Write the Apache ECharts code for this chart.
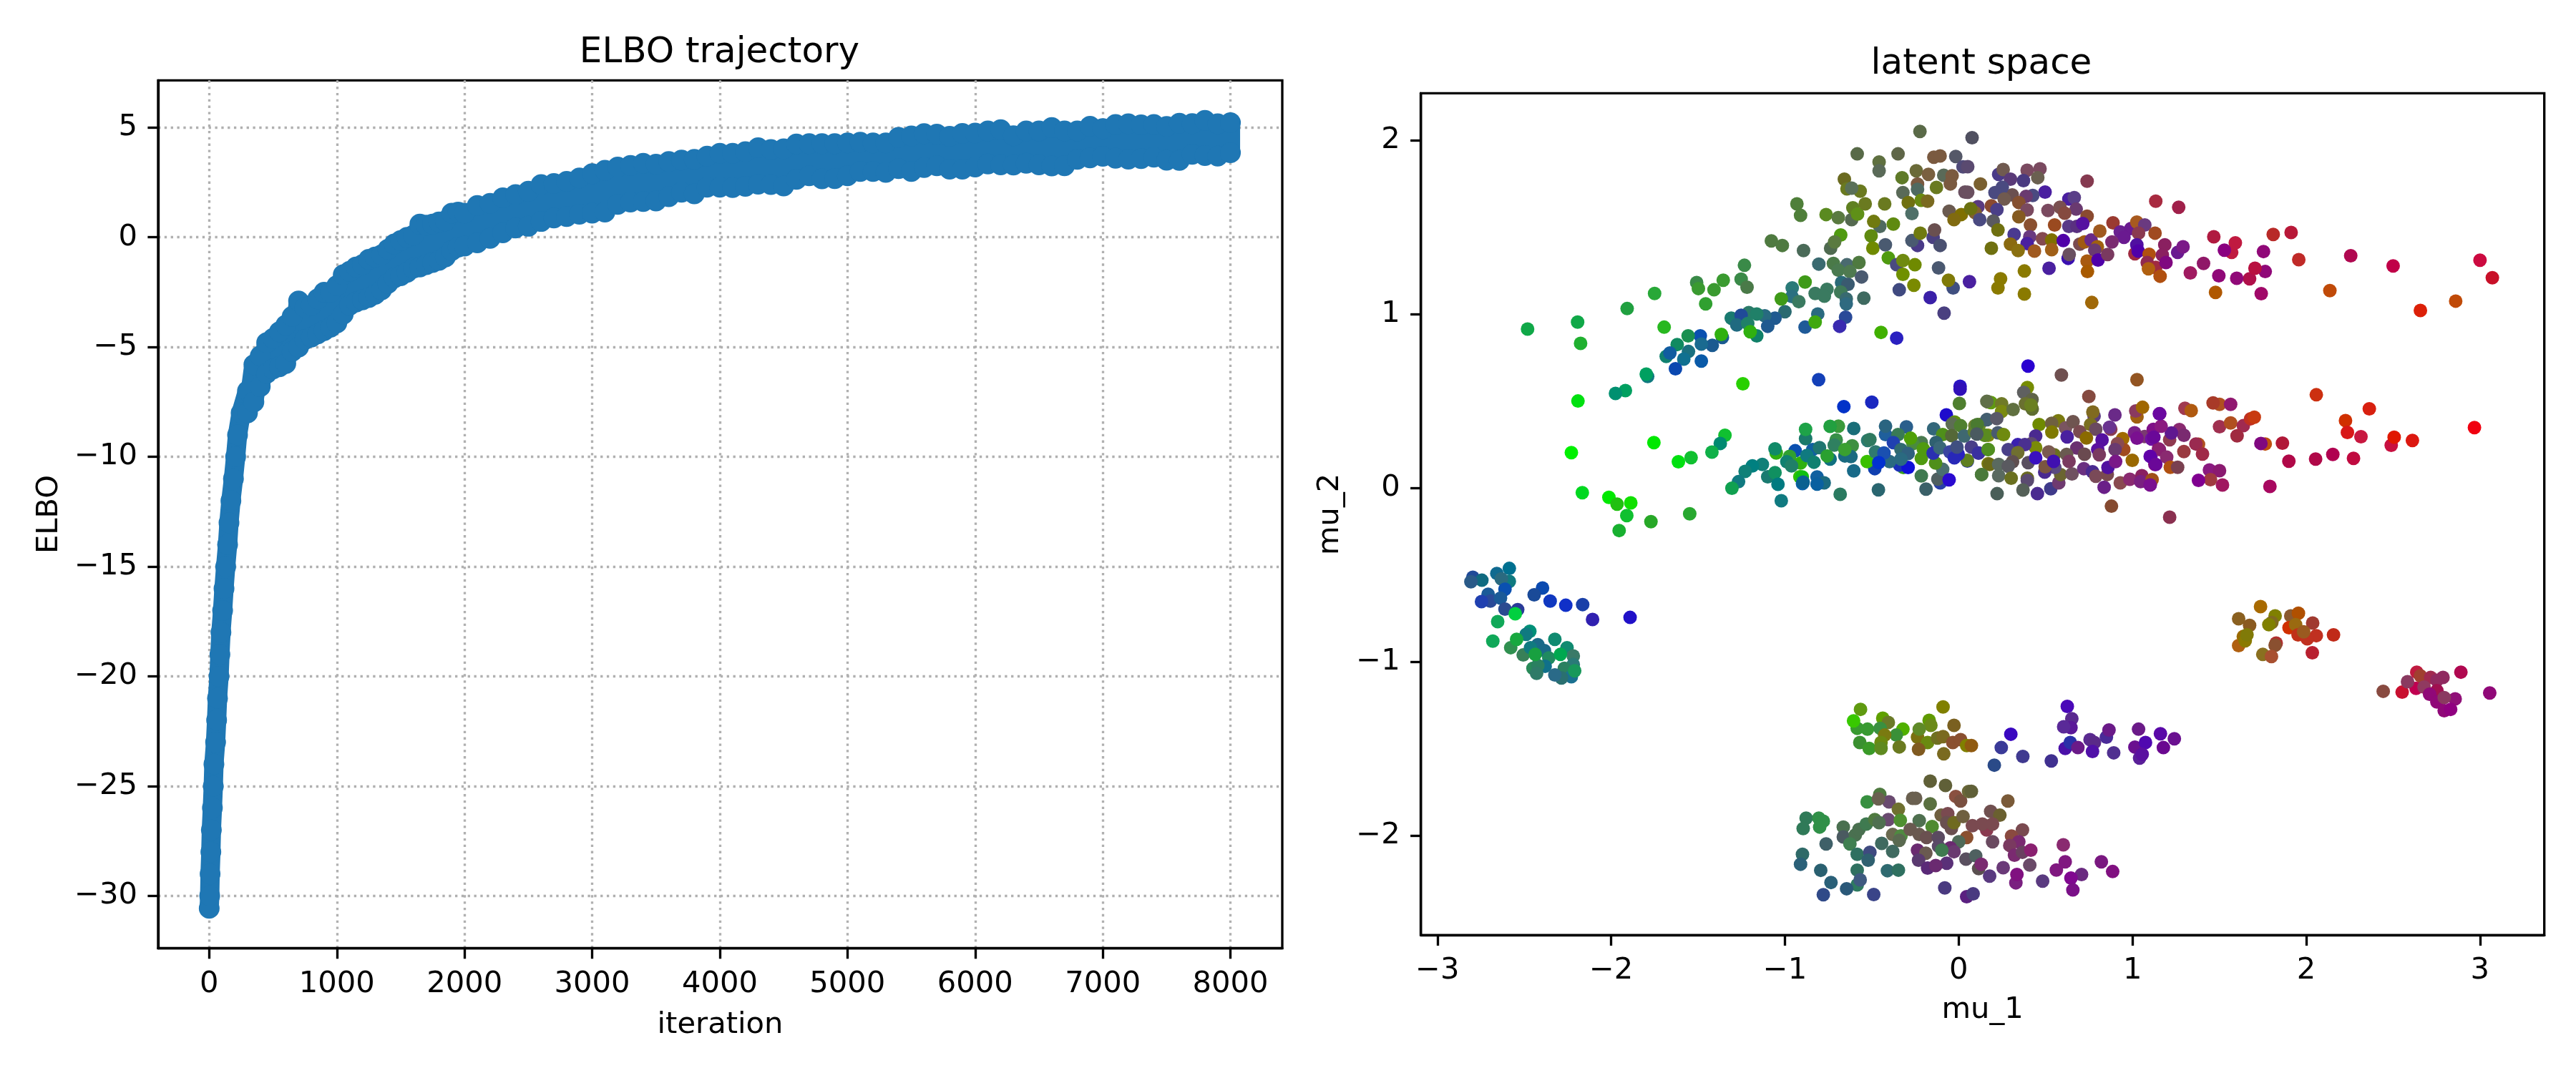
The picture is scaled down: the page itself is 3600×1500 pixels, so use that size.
<!DOCTYPE html>
<html>
<head>
<meta charset="utf-8">
<script src="https://cdn.jsdelivr.net/npm/echarts@6/dist/echarts.min.js"></script>
<style>html,body{margin:0;padding:0;background:#fff}#c{width:3600px;height:1500px}</style>
</head>
<body>
<div id="c"></div>
<script>
// ---------- ELBO trajectory: early climb (iteration, ELBO) ----------
const earlyIter = [0,4,7,13,17,25,32,37,50,58,65,77,84,92,105,116,129,144,155,170,190,207,222,250];
const earlyElbo = [-30.57,-30,-29,-28,-27,-26,-25,-24,-23,-22,-21,-20,-19,-18,-17,-16,-15,-14,-13,-12,-11,-10,-9,-8];
// later part of the run: upper and lower edge of the noisy band
const bandIter = [300,350,400,450,500,550,600,650,700,750,800,850,900,950,1000,1050,1100,1150,1200,1250,1300,1350,1400,1450,1500,1550,1600,1650,1700,1750,1800,1850,1900,1950,2000,2100,2200,2300,2400,2500,2600,2700,2800,2900,3000,3100,3200,3300,3400,3500,3600,3700,3800,3900,4000,4100,4200,4300,4400,4500,4600,4700,4800,4900,5000,5100,5200,5300,5400,5500,5600,5700,5800,5900,6000,6100,6200,6300,6400,6500,6600,6700,6800,6900,7000,7100,7200,7300,7400,7500,7600,7700,7800,7900,8000];
const bandUpper = [-7.0,-5.8,-5.4,-4.8,-4.6,-4.3,-4.0,-3.6,-2.9,-3.2,-3.1,-2.8,-2.5,-2.5,-2.2,-1.7,-1.55,-1.35,-1.25,-1.0,-0.9,-0.8,-0.55,-0.3,-0.15,0.0,0.1,0.6,0.55,0.6,0.7,0.75,1.1,1.15,1.1,1.45,1.55,1.8,1.95,2.1,2.4,2.45,2.55,2.7,2.9,3.05,3.2,3.27,3.37,3.33,3.45,3.52,3.55,3.7,3.83,3.83,3.9,4.08,4.0,4.03,4.25,4.27,4.27,4.27,4.3,4.33,4.3,4.3,4.55,4.62,4.72,4.7,4.6,4.73,4.75,4.85,4.9,4.63,4.85,4.85,5.0,4.85,4.85,5.06,4.95,5.14,5.17,5.12,5.14,5.05,5.2,5.18,5.33,5.17,5.22];
const bandLower = [-8.0,-7.5,-6.8,-6.2,-6.0,-5.9,-5.75,-5.2,-5.0,-4.65,-4.55,-4.4,-4.25,-4.1,-3.9,-3.5,-3.1,-2.95,-2.85,-2.75,-2.6,-2.4,-2.1,-1.85,-1.75,-1.6,-1.4,-1.35,-1.25,-1.15,-1.05,-0.9,-0.6,-0.45,-0.4,-0.25,-0.05,0.2,0.42,0.5,0.72,0.88,0.94,1.05,1.1,1.15,1.5,1.6,1.63,1.65,1.85,2.05,1.98,2.28,2.28,2.26,2.32,2.42,2.4,2.34,2.64,2.8,2.66,2.67,2.8,3.0,3.0,2.96,3.13,3.0,3.18,3.26,3.1,3.1,3.2,3.34,3.3,3.29,3.37,3.3,3.25,3.26,3.55,3.62,3.69,3.6,3.56,3.58,3.65,3.51,3.5,3.78,3.72,3.7,3.85];
const elboXTicks = [0,1000,2000,3000,4000,5000,6000,7000,8000];
const elboYTicks = [-30,-25,-20,-15,-10,-5,0,5];
const latentXTicks = [-3,-2,-1,0,1,2,3];
const latentYTicks = [-2,-1,0,1,2];

// ---------- latent space: rows of mu_1, mu_2, point colour ----------
const leftArm = [[-1.233,1.28,'#3a8a48'],[-1.252,1.2,'#3a8a48'],[-1.218,1.154,'#4a7a48'],[-1.355,1.194,'#3a9a30'],[-1.408,1.139,'#3a9a30'],[-1.508,1.181,'#3a8a48'],[-1.498,1.146,'#3a9a30'],[-1.456,1.058,'#30a030'],[-1.75,1.118,'#28a838'],[-1.908,1.031,'#20a040'],[-2.193,0.953,'#10a848'],[-2.176,0.831,'#20b030'],[-2.481,0.913,'#10a848'],[-1.695,0.924,'#28b820'],[-1.0,1.013,'#2a6a70'],[-1.057,0.976,'#205a90'],[-1.116,0.989,'#286a80'],[-1.208,1.008,'#2a7a68'],[-1.162,1.0,'#208068'],[-1.309,0.976,'#1a7a70'],[-1.252,0.992,'#204a98'],[-1.277,0.937,'#206a80'],[-1.214,0.945,'#208068'],[-1.099,0.929,'#205a90'],[-1.162,0.874,'#108068'],[-1.2,0.898,'#30b010'],[-1.36,0.865,'#1a5a90'],[-1.366,0.882,'#30b010'],[-1.418,0.819,'#1a5a90'],[-1.487,0.874,'#0a50b0'],[-1.557,0.874,'#1a9050'],[-1.481,0.827,'#1a6a90'],[-1.62,0.824,'#108a60'],[-1.555,0.784,'#1a7080'],[-1.683,0.756,'#108070'],[-1.662,0.775,'#105ca0'],[-1.582,0.74,'#107090'],[-1.481,0.729,'#0a5aa8'],[-1.63,0.685,'#0a48b0'],[-1.79,0.64,'#107a80'],[-1.798,0.654,'#00a060'],[-1.918,0.559,'#00a060'],[-1.975,0.543,'#009070'],[-1.242,0.598,'#28d000'],[-2.191,0.499,'#00e010']];
const topLeft = [[-0.223,2.05,'#5a6a48'],[-0.584,1.921,'#586a48'],[-0.349,1.921,'#5f6648'],[-0.017,1.906,'#555868'],[-0.143,1.902,'#7a5a40'],[-0.107,1.909,'#7a5a40'],[-0.458,1.874,'#5f7040'],[-0.458,1.824,'#5a6a58'],[-0.244,1.824,'#6a6a38'],[-0.174,1.803,'#7a6040'],[-0.086,1.798,'#5a6a58'],[-0.038,1.795,'#7a5a40'],[-0.326,1.784,'#5f7a28'],[-0.658,1.775,'#6a6a20'],[-0.237,1.748,'#7a5a40'],[-0.048,1.748,'#7a5a40'],[0.025,1.846,'#504a78'],[-0.643,1.72,'#6a7a20'],[-0.567,1.706,'#6a7a20'],[-0.616,1.724,'#5a7058'],[-0.237,1.717,'#4f6a60'],[-0.321,1.698,'#5a6a58'],[-0.128,1.728,'#6a7a20'],[0.036,1.701,'#6a5060'],[-0.931,1.633,'#4f7f3a'],[-0.91,1.567,'#4f7f3a'],[-0.763,1.572,'#5a8a20'],[-0.693,1.554,'#5a7a40'],[-0.616,1.543,'#556a50'],[-0.609,1.611,'#5f8020'],[-0.582,1.575,'#5f9018'],[-0.538,1.633,'#6a7a20'],[-0.426,1.633,'#6a7a20'],[-0.216,1.654,'#6a8a10'],[-0.29,1.641,'#707010'],[-0.179,1.649,'#7a6a20'],[-0.269,1.578,'#4f7068'],[-0.055,1.591,'#6a5a50'],[0.015,1.572,'#7f7000'],[-0.027,1.543,'#806a10'],[-0.454,1.504,'#4f6a60'],[-0.489,1.532,'#707a10'],[-0.376,1.517,'#5f8a10'],[-0.679,1.454,'#4f9a10'],[-0.504,1.449,'#5f8a10'],[-0.494,1.378,'#6f8a00'],[-0.737,1.378,'#4f6a50'],[-0.714,1.414,'#5a7a40'],[-1.078,1.42,'#4f7a40'],[-1.015,1.394,'#4f7a40'],[-0.893,1.365,'#4a6a58'],[-0.422,1.398,'#4a5a70'],[-0.237,1.394,'#4a3a88'],[-0.269,1.422,'#4a5a70'],[-0.147,1.441,'#4a4080'],[-0.139,1.483,'#6a5050'],[-0.107,1.394,'#4a5070'],[-0.221,1.465,'#6f7a10'],[-0.405,1.323,'#4f9a10'],[-0.357,1.283,'#4a4a80'],[-0.321,1.307,'#6f8a10'],[-0.252,1.283,'#6f8a00'],[-0.321,1.228,'#6f9000'],[-0.116,1.265,'#4a5870'],[-0.805,1.287,'#3a6a70'],[-0.643,1.283,'#4a6a70'],[-0.721,1.291,'#4a7a48'],[-0.574,1.296,'#4f7a40'],[-0.693,1.252,'#4a7a50'],[-0.626,1.244,'#4f7a50'],[-0.559,1.213,'#4a5a70'],[-0.032,1.15,'#404f80'],[-0.059,1.194,'#7f7a08'],[-0.342,1.139,'#404a80'],[-0.258,1.165,'#7a8a00'],[-0.164,1.094,'#3a20a8'],[-0.084,1.005,'#4a4080'],[-0.958,1.15,'#2a7a78'],[-0.884,1.184,'#3f9a18'],[-0.96,1.1,'#2a7080'],[-0.826,1.118,'#3a7a60'],[-0.758,1.142,'#3a7a60'],[-0.773,1.102,'#3a7a60'],[-0.674,1.181,'#2a6a78'],[-0.637,1.17,'#3a5a70'],[-0.679,1.126,'#3f7a58'],[-0.647,1.087,'#386a70'],[-0.647,1.058,'#2f6a80'],[-0.546,1.091,'#3f6a60'],[-0.92,1.071,'#3a7a60'],[-1.021,1.087,'#3f9a18'],[-0.811,1.0,'#2a6a80'],[-0.651,0.981,'#2a4a98'],[-0.884,0.924,'#1f5a98'],[-0.826,0.953,'#3fa810'],[-0.685,0.929,'#3a2ab0'],[-0.447,0.894,'#40b000'],[-0.357,0.861,'#2a20c0']];
const topRight = [[0.077,2.014,'#505060'],[0.052,1.847,'#5a4a70'],[0.23,1.803,'#4a3a88'],[0.256,1.831,'#705a50'],[0.394,1.827,'#7a4a60'],[0.468,1.835,'#7a4a60'],[0.455,1.784,'#6a6050'],[0.373,1.767,'#4a3a80'],[0.298,1.775,'#5a3a78'],[0.125,1.748,'#7a6030'],[0.052,1.7,'#6a5060'],[0.739,1.764,'#853a50'],[0.497,1.701,'#4a1fa0'],[0.426,1.682,'#4a4a80'],[0.388,1.677,'#6a3a70'],[0.308,1.685,'#6a5050'],[0.251,1.729,'#4a4a80'],[0.209,1.698,'#4a4a80'],[0.262,1.661,'#705a50'],[0.346,1.641,'#855030'],[0.634,1.661,'#4a1fa0'],[0.665,1.669,'#5a3f88'],[0.394,1.598,'#7a4a60'],[0.676,1.603,'#6a3a70'],[0.514,1.595,'#7a4a60'],[0.583,1.614,'#7a5050'],[0.61,1.58,'#854a40'],[0.739,1.562,'#8a4a30'],[0.111,1.617,'#5a3a80'],[0.188,1.622,'#8a4a30'],[0.22,1.6,'#4a3f88'],[0.094,1.583,'#806030'],[0.069,1.606,'#6a7010'],[0.121,1.543,'#4a4a80'],[0.199,1.535,'#5a5a60'],[0.346,1.559,'#855a20'],[0.226,1.483,'#6f7010'],[0.413,1.512,'#8a5030'],[0.552,1.512,'#9a4a20'],[0.634,1.504,'#5a3a88'],[0.68,1.504,'#5a3080'],[0.714,1.52,'#5510a0'],[0.319,1.457,'#4a3a90'],[0.409,1.444,'#6a3a80'],[0.394,1.405,'#4a20a0'],[0.482,1.433,'#854a50'],[0.535,1.425,'#7f7000'],[0.602,1.422,'#5000a8'],[0.298,1.402,'#8a6a10'],[0.188,1.378,'#6f7010'],[0.342,1.365,'#8a7010'],[0.436,1.362,'#a05a20'],[0.535,1.37,'#a06018'],[0.697,1.402,'#7a4a50'],[0.724,1.414,'#a05a10'],[0.762,1.425,'#6a2a88'],[0.798,1.386,'#a06010'],[0.783,1.367,'#6a3a70'],[0.63,1.32,'#3a10b0'],[0.636,1.342,'#6a5060'],[0.739,1.304,'#a85a10'],[0.802,1.31,'#5000a8'],[0.857,1.342,'#7a3a60'],[0.741,1.244,'#a85a00'],[0.378,1.247,'#8a7a00'],[0.52,1.263,'#4a20a0'],[0.241,1.202,'#8a7a00'],[0.226,1.15,'#8a7a00'],[0.062,1.186,'#4a20a0'],[0.378,1.115,'#8a7a00'],[0.766,1.066,'#a06808'],[0.812,1.477,'#a05a20'],[0.888,1.524,'#9a3a30'],[0.93,1.472,'#6a2090'],[0.991,1.491,'#6a1a90'],[1.025,1.528,'#a85a20'],[1.071,1.512,'#6a3a80'],[1.035,1.465,'#8a3a50'],[1.13,1.465,'#a04a20'],[0.951,1.441,'#6a1a90'],[0.882,1.414,'#7a2a70'],[1.134,1.649,'#a82a40'],[1.266,1.614,'#a0204a'],[1.014,1.346,'#a02a40'],[1.025,1.398,'#5010a0'],[1.033,1.362,'#5000a8'],[1.096,1.343,'#b05010'],[1.186,1.398,'#8a2060'],[1.172,1.339,'#8a2060'],[1.26,1.354,'#6a1a90'],[1.291,1.386,'#7a1a88'],[1.085,1.296,'#902a50'],[1.134,1.268,'#a02a40'],[1.092,1.26,'#b06010'],[1.193,1.296,'#800880'],[1.159,1.217,'#b05010'],[1.333,1.236,'#a01a60'],[1.409,1.291,'#901868'],[1.468,1.444,'#b01a40'],[1.571,1.354,'#c01a40'],[1.592,1.409,'#c01a40'],[1.529,1.367,'#8a0080'],[1.754,1.359,'#900878'],[1.81,1.457,'#b82a28'],[1.913,1.469,'#b81838'],[1.957,1.312,'#c02a28'],[2.256,1.335,'#b00850'],[2.5,1.276,'#c00048'],[3.0,1.309,'#cc0a40'],[3.071,1.208,'#c81028'],[2.657,1.02,'#dc2008'],[2.86,1.074,'#c04a08'],[2.136,1.134,'#c04a08'],[1.741,1.117,'#a00868'],[1.478,1.124,'#b05800'],[1.674,1.202,'#b0104a'],[1.6,1.205,'#900878'],[1.764,1.244,'#900878'],[1.705,1.263,'#b81040'],[1.497,1.22,'#900878']];
const bandLeft = [[-1.345,0.302,'#10c030'],[-1.372,0.255,'#008a70'],[-1.42,0.205,'#10b048'],[-1.754,0.26,'#00e800'],[-2.229,0.202,'#00f000'],[-1.54,0.173,'#10c030'],[-1.613,0.15,'#00e010'],[-2.166,-0.028,'#00d820'],[-2.013,-0.055,'#00e800'],[-1.887,-0.087,'#10e000'],[-1.966,-0.094,'#20c010'],[-1.91,-0.16,'#10c030'],[-1.771,-0.195,'#28a828'],[-1.548,-0.15,'#28a830'],[-1.954,-0.246,'#18b030'],[-1.021,-0.075,'#107a80'],[-1.05,0.2,'#30b010'],[-1.057,0.224,'#108a68'],[-1.13,0.134,'#108078'],[-1.187,0.126,'#008080'],[-1.229,0.094,'#108078'],[-1.267,0.035,'#107a80'],[-1.305,-0.003,'#10a050'],[-1.099,0.063,'#1a7a70'],[-1.057,0.087,'#109060'],[-1.04,0.02,'#007a80'],[-0.941,0.213,'#0a50b0'],[-0.973,0.181,'#30a030'],[-0.91,0.142,'#30b010'],[-0.989,0.15,'#108070'],[-0.962,0.126,'#208068'],[-0.914,0.063,'#30c000'],[-0.899,0.024,'#0a60a8'],[-0.9,0.062,'#10c010'],[-0.895,0.032,'#0a6090']];
const bandCentre = [[-0.806,0.622,'#1440b8'],[-0.661,0.467,'#0232c8'],[-0.5,0.492,'#1a28c0'],[0.008,0.584,'#2a14c4'],[0.008,0.567,'#3010b8'],[0.004,0.485,'#4f7f2f'],[-0.071,0.419,'#1e0ccc'],[0.169,0.494,'#5f6b3a'],[-0.023,0.378,'#5f9010'],[-0.037,0.368,'#5d6e54'],[0.011,0.357,'#4f8030'],[0.093,0.357,'#6c8030'],[0.12,0.364,'#6c8a28'],[0.162,0.392,'#4a5a70'],[-0.144,0.339,'#33677a'],[-0.092,0.306,'#4f8f1a'],[-0.421,0.306,'#1f5f9c'],[-0.301,0.35,'#2a5f8c'],[-0.421,0.354,'#2a6480'],[-0.349,0.306,'#397a55'],[-0.604,0.341,'#1a6e78'],[-0.692,0.354,'#3a9a3c'],[-0.74,0.353,'#22a040'],[-0.881,0.282,'#1a7a6a'],[-0.881,0.336,'#1ea348'],[-0.705,0.275,'#389048'],[-0.613,0.241,'#3d9040'],[-0.716,0.245,'#2f8060'],[-0.524,0.272,'#2a7a70'],[-0.511,0.277,'#2f7a60'],[-0.655,0.183,'#1a6a80'],[-0.62,0.179,'#1a6a80'],[-0.655,0.22,'#3aa030'],[-0.84,0.22,'#1060a0'],[-0.801,0.231,'#1f7670'],[-0.874,0.186,'#107a80'],[-0.833,0.147,'#108070'],[-0.74,0.165,'#107080'],[-0.757,0.183,'#2aa030'],[-0.604,0.097,'#186a88'],[-0.815,0.062,'#1060a0'],[-0.774,0.028,'#1a6a80'],[-0.815,0.021,'#0a60a0'],[-0.682,-0.038,'#2a7a60'],[-0.462,-0.012,'#2a6670'],[-0.188,-0.008,'#3a6068'],[-0.215,0.068,'#3f7a50'],[-0.106,0.028,'#2a3fa8'],[-0.12,0.05,'#4f5f60'],[-0.092,0.106,'#4a6f70'],[-0.055,0.046,'#2a0ad0'],[0.132,0.076,'#557a40'],[0.05,0.154,'#2a3aa0'],[0.049,0.158,'#5f7f20'],[-0.133,0.142,'#4f8f1a'],[-0.215,0.169,'#4f9a10'],[-0.215,0.26,'#4a7a50'],[-0.263,0.254,'#4a8a40'],[-0.204,0.224,'#4f9a10'],[-0.277,0.285,'#4f9f08'],[-0.376,0.26,'#2040b0'],[-0.332,0.22,'#306a70'],[-0.291,0.197,'#30607f'],[-0.318,0.117,'#3aa020'],[-0.34,0.13,'#1a30b8'],[-0.291,0.117,'#1010d8'],[-0.332,0.165,'#2a6a80'],[-0.398,0.151,'#2a6a80'],[-0.483,0.11,'#1040b0'],[-0.527,0.151,'#3ac000'],[-0.479,0.206,'#2f7a70'],[-0.43,0.2,'#1a50b0'],[-0.46,0.145,'#0232d0'],[-0.13,0.261,'#2f6070'],[-0.147,0.199,'#2a30b0'],[-0.108,0.23,'#3a6878'],[-0.051,0.206,'#3a45a0'],[-0.003,0.193,'#2a20c0'],[-0.025,0.172,'#2828b8'],[0.073,0.234,'#4a3f88'],[0.114,0.2,'#4a4080'],[-0.04,0.3,'#556838'],[-0.01,0.234,'#404f80'],[0.032,0.298,'#3f6870'],[0.09,0.323,'#5f8030'],[0.15,0.302,'#5a7a30'],[0.17,0.302,'#7f8a10'],[0.17,0.22,'#5f8a20'],[0.17,0.138,'#7a7a10'],
[0.395,0.577,'#768c00'],[0.374,0.549,'#5f6060'],[0.422,0.508,'#5f6348'],[0.384,0.483,'#6a7030'],[0.423,0.453,'#5f6e30'],[0.416,0.476,'#6a8020'],[0.591,0.649,'#6f5050'],[1.026,0.622,'#935522'],[0.749,0.525,'#854a40'],[0.186,0.49,'#5f9a10'],[0.162,0.497,'#5f6f48'],[0.247,0.483,'#6f7a28'],[0.247,0.439,'#7a8a10'],[0.313,0.45,'#607040'],[0.162,0.391,'#445f70'],[0.219,0.398,'#5a5868'],[0.463,0.364,'#6f8a00'],[0.573,0.385,'#7a7a10'],[0.535,0.371,'#6f6040'],[0.615,0.344,'#7a5560'],[0.658,0.38,'#6f5550'],[0.697,0.323,'#7a4a50'],[0.779,0.412,'#5a3a80'],[0.772,0.436,'#806a20'],[0.759,0.364,'#7a7020'],[0.899,0.419,'#6a2a88'],[1.026,0.408,'#a06010'],[1.019,0.442,'#8a3a60'],[1.058,0.463,'#a06800'],[1.157,0.426,'#7a1090'],[0.875,0.337,'#8a3a50'],[0.868,0.348,'#6a3490'],[0.789,0.337,'#6a4a60'],[0.735,0.286,'#8a6a00'],[0.944,0.282,'#a06a00'],[1.012,0.316,'#7a2088'],[1.07,0.295,'#7a3a70'],[1.026,0.285,'#7a1090'],[1.12,0.336,'#7f1088'],[1.11,0.28,'#7010a0'],[0.825,0.275,'#5510a0'],[0.95,0.22,'#a04a20'],[0.914,0.254,'#8a4a50'],[0.9,0.22,'#6a3a70'],[0.8,0.22,'#5a10a0'],[0.809,0.19,'#7a3a60'],[0.68,0.229,'#6a3070'],[0.724,0.193,'#6a4a50'],[0.624,0.293,'#4a209f'],[0.536,0.32,'#7f7a00'],[0.443,0.298,'#4a2a90'],[0.418,0.254,'#5f4a70'],[0.443,0.23,'#7a8a08'],[0.55,0.19,'#6a7020'],[0.518,0.206,'#7a5a50'],[0.34,0.248,'#3a20b0'],[0.381,0.248,'#4a3090'],[0.285,0.22,'#4a3f88'],[0.34,0.202,'#6f6f30'],[0.31,0.15,'#5f4f50'],[0.4,0.144,'#5a4f60'],[0.443,0.172,'#3a10c0'],[0.151,0.302,'#5a8a20'],[0.226,0.316,'#4a5a70'],[0.258,0.306,'#6f8a10'],[0.107,0.364,'#4a7a30'],[0.104,0.309,'#4a5a60'],[0.114,0.2,'#3a30a0'],[0.169,0.22,'#4f8f20'],[0.178,0.134,'#6a6a18'],[0.23,0.134,'#5a6a60'],[0.285,0.124,'#5a5a60'],[0.132,0.076,'#4a7a3a'],[0.23,0.069,'#5a6a60'],[0.302,0.055,'#6a7020'],[0.395,0.055,'#6a6a20'],[0.395,0.042,'#5a4a70'],[0.37,-0.013,'#556058'],[0.221,-0.034,'#4a5f58'],[0.453,-0.034,'#4a2a90'],[0.53,-0.006,'#3f3a8a'],[0.576,0.028,'#6f3a70'],[0.587,0.076,'#6a6430'],[0.652,0.08,'#6f5060'],[0.553,0.117,'#5a4a80'],[0.495,0.09,'#4a2a90'],[0.498,0.121,'#7a5540'],[0.546,0.152,'#4010b0'],[0.621,0.192,'#6a5a50'],[0.635,0.152,'#7a3a60'],[0.72,0.11,'#6a3080'],[0.77,0.092,'#4a2a90'],[0.789,0.066,'#7a4a58'],[0.855,0.076,'#7a4a50'],[0.859,0.117,'#5010a0'],[0.903,0.151,'#7a1888'],[0.837,0.003,'#6a2088'],[0.93,0.028,'#8a4a50'],[0.985,0.049,'#8a2a70'],[1.054,0.069,'#8a2060'],[1.108,0.042,'#8a3a50'],[1.047,0.035,'#7a2080'],[1.102,0.018,'#801080'],[0.999,0.158,'#9a6800'],[1.106,0.179,'#6000b0'],[1.129,0.134,'#8a0878'],[1.15,0.224,'#8a1870'],[0.879,-0.106,'#854a30'],[0.399,0.70,'#2a00d0']];
const bandRight = [[1.302,0.457,'#a03a50'],[1.338,0.444,'#b05a10'],[1.501,0.48,'#b05020'],[1.464,0.488,'#a83a28'],[1.565,0.48,'#901870'],[1.501,0.351,'#a03050'],[1.565,0.373,'#b05020'],[1.638,0.357,'#a02a50'],[1.68,0.397,'#c03020'],[1.701,0.406,'#c83a10'],[1.602,0.299,'#a02a40'],[1.764,0.252,'#c05010'],[1.739,0.255,'#800880'],[1.863,0.257,'#b01838'],[1.9,0.153,'#b00848'],[2.054,0.165,'#b00848'],[2.153,0.192,'#b00050'],[2.272,0.169,'#c00a40'],[2.058,0.535,'#cc3010'],[2.363,0.454,'#d82010'],[2.226,0.386,'#d03000'],[2.237,0.318,'#d81818'],[2.315,0.294,'#c81840'],[2.489,0.244,'#c81040'],[2.506,0.291,'#e01800'],[2.611,0.272,'#dc1810'],[2.968,0.346,'#f00010'],[1.38,0.25,'#b05020'],[1.365,0.252,'#9a2a50'],[1.403,0.194,'#a02a48'],[1.296,0.208,'#9a3a40'],[1.27,0.335,'#8a2a70'],[1.296,0.302,'#7a2a70'],[1.214,0.276,'#903a50'],[1.224,0.315,'#601890'],[1.165,0.354,'#8a1a80'],[1.155,0.425,'#6a08a0'],[1.123,0.291,'#6a0898'],[1.155,0.22,'#8a2070'],[1.197,0.176,'#8a2a70'],[1.102,0.181,'#6000a8'],[1.134,0.134,'#6a0898'],[1.218,0.118,'#b05010'],[1.26,0.118,'#7a4050'],[1.443,0.102,'#8a1a80'],[1.501,0.098,'#8a1a70'],[1.449,0.047,'#a03a40'],[1.518,0.016,'#a01860'],[1.38,0.043,'#800090'],[1.791,0.008,'#a80860'],[1.214,-0.169,'#8a3050'],[1.113,0.047,'#a05018'],[1.102,0.016,'#7a1090']];
const farLeftCluster = [[-2.586,-0.464,'#007090'],[-2.658,-0.493,'#106a90'],[-2.796,-0.515,'#204a98'],[-2.744,-0.532,'#106a80'],[-2.807,-0.541,'#2a5a88'],[-2.586,-0.539,'#107a80'],[-2.632,-0.524,'#2a6a80'],[-2.611,-0.584,'#0a50b0'],[-2.395,-0.577,'#0a4ab0'],[-2.443,-0.616,'#1a4a98'],[-2.351,-0.652,'#1038c0'],[-2.261,-0.676,'#1030c8'],[-2.164,-0.672,'#1a40a8'],[-2.107,-0.758,'#3020b0'],[-1.891,-0.746,'#2010c8'],[-2.708,-0.613,'#1a5a98'],[-2.695,-0.652,'#2a4a98'],[-2.637,-0.635,'#1a5a98'],[-2.746,-0.655,'#2040b0'],[-2.538,-0.701,'#2a3a98'],[-2.611,-0.698,'#2a4a90'],[-2.552,-0.725,'#00d040'],[-2.653,-0.77,'#10a858'],[-2.681,-0.882,'#10a858'],[-2.578,-0.92,'#309050'],[-2.468,-0.826,'#009078'],[-2.489,-0.843,'#107a80'],[-2.544,-0.872,'#18a840'],[-2.324,-0.872,'#108a70'],[-2.254,-0.92,'#108a70'],[-2.506,-0.962,'#388058'],[-2.422,-0.903,'#1a6a88'],[-2.464,-0.92,'#107a80'],[-2.384,-0.937,'#1a6a88'],[-2.359,-0.979,'#208a60'],[-2.38,-1.027,'#10708a'],[-2.45,-1.039,'#288a58'],[-2.422,-1.022,'#2a8060'],[-2.429,-1.068,'#2f7a68'],[-2.437,-0.959,'#18a040'],[-2.218,-0.968,'#3a7a68'],[-2.218,-1.017,'#2a7a78'],[-2.269,-1.039,'#2a8060'],[-2.229,-1.087,'#1a7090'],[-2.286,-1.094,'#2a7070'],[-2.324,-1.077,'#2a6a88'],[-2.21,-1.053,'#18985a'],[-2.292,-0.959,'#00a850']];
const lowerMiddle = [[-0.565,-1.275,'#5f9a10'],[-0.584,-1.384,'#389a30'],[-0.605,-1.341,'#38c800'],[-0.525,-1.389,'#389a30'],[-0.569,-1.466,'#3a9030'],[-0.515,-1.5,'#3a9a28'],[-0.437,-1.326,'#5fa000'],[-0.405,-1.35,'#6a7a28'],[-0.452,-1.384,'#3a9040'],[-0.321,-1.389,'#50b000'],[-0.359,-1.423,'#3a9038'],[-0.426,-1.423,'#7a7a10'],[-0.447,-1.466,'#6a8a10'],[-0.447,-1.5,'#5f8a20'],[-0.342,-1.491,'#6a7a20'],[-0.17,-1.338,'#5f9a00'],[-0.16,-1.367,'#6a8a18'],[-0.237,-1.435,'#7a7010'],[-0.227,-1.389,'#5f8a28'],[-0.179,-1.466,'#6a8a10'],[-0.231,-1.505,'#805a20'],[-0.122,-1.44,'#6f7020'],[-0.09,-1.432,'#7a6a20'],[-0.086,-1.531,'#7a6a20'],[-0.09,-1.261,'#808000'],[-0.027,-1.367,'#7a6020'],[-0.034,-1.466,'#8a5030'],[0.011,-1.449,'#8a5030'],[0.046,-1.483,'#808000'],[0.073,-1.483,'#905a10'],[0.3,-1.418,'#3a08c0'],[0.245,-1.495,'#3a3a98'],[0.369,-1.546,'#403a90'],[0.205,-1.596,'#2a4a88'],[0.533,-1.572,'#403090'],[0.625,-1.258,'#4a08b8'],[0.651,-1.329,'#5a2a90'],[0.646,-1.38,'#5a1898'],[0.604,-1.375,'#5a2a98'],[0.613,-1.5,'#4a10a8'],[0.642,-1.466,'#2a30a8'],[0.686,-1.495,'#6a1a88'],[0.756,-1.449,'#5a2a90'],[0.781,-1.466,'#5a2a88'],[0.77,-1.517,'#5010a8'],[0.85,-1.435,'#4a2a98'],[0.865,-1.394,'#6a1a88'],[0.892,-1.525,'#503090'],[1.035,-1.389,'#6a1a88'],[1.014,-1.492,'#6a1090'],[1.075,-1.466,'#5008b0'],[1.041,-1.555,'#5a2098'],[1.056,-1.534,'#5a10a0'],[1.161,-1.415,'#5a08a8'],[1.241,-1.444,'#6a1090'],[1.178,-1.495,'#6a0890']];
const rightCluster = [[1.737,-0.684,'#a86a00'],[1.821,-0.737,'#808000'],[1.611,-0.754,'#8a6020'],[1.674,-0.792,'#8a5a20'],[1.802,-0.775,'#806a20'],[1.785,-0.788,'#808000'],[1.911,-0.737,'#8a5a30'],[1.955,-0.722,'#b05000'],[2.037,-0.778,'#a03a30'],[1.901,-0.805,'#d03000'],[1.939,-0.788,'#9a6a10'],[2.058,-0.851,'#c03020'],[1.953,-0.846,'#c03018'],[2.006,-0.869,'#c03020'],[1.985,-0.829,'#9a5a20'],[2.157,-0.846,'#c02a18'],[1.611,-0.908,'#b06010'],[1.638,-0.856,'#9a6a00'],[1.649,-0.88,'#8a7a00'],[1.659,-0.846,'#807a08'],[1.827,-0.894,'#b03030'],[1.821,-0.906,'#8a5030'],[1.75,-0.959,'#8a7020'],[1.8,-0.971,'#a85030'],[2.035,-0.949,'#b82030']];
const farRightCluster = [[2.443,-1.171,'#884a40'],[2.552,-1.176,'#c81030'],[2.632,-1.154,'#c00050'],[2.583,-1.116,'#8a3a60'],[2.636,-1.061,'#c01a40'],[2.657,-1.082,'#a04030'],[2.716,-1.091,'#a02a50'],[2.787,-1.091,'#902a60'],[2.89,-1.061,'#b00850'],[2.752,-1.108,'#902a60'],[2.678,-1.147,'#903a60'],[2.752,-1.167,'#a01050'],[2.71,-1.188,'#900878'],[2.857,-1.215,'#901078'],[2.752,-1.232,'#900878'],[2.794,-1.207,'#8a3a60'],[2.794,-1.283,'#900878'],[2.831,-1.275,'#900080'],[3.056,-1.181,'#900878']];
const bottomCluster = [[-0.878,-1.901,'#307a58'],[-0.895,-1.961,'#307a58'],[-0.805,-1.901,'#309048'],[-0.779,-1.918,'#309048'],[-0.8,-1.952,'#309048'],[-0.664,-1.952,'#4a7050'],[-0.664,-2.009,'#4a5a60'],[-0.763,-2.049,'#3f6068'],[-0.595,-1.998,'#4a7050'],[-0.626,-2.049,'#3f7f50'],[-0.574,-1.966,'#4a7050'],[-0.532,-1.935,'#3f7a50'],[-0.527,-1.807,'#389040'],[-0.454,-1.764,'#4f7a40'],[-0.401,-1.807,'#6a4a70'],[-0.462,-1.79,'#6a6050'],[-0.405,-1.909,'#6a4a70'],[-0.483,-1.909,'#4f7a40'],[-0.458,-1.927,'#4f7050'],[-0.347,-1.85,'#6f7030'],[-0.336,-1.913,'#4f9030'],[-0.443,-2.046,'#3f6a60'],[-0.38,-1.995,'#6a6a50'],[-0.332,-2.003,'#4f8a40'],[-0.342,-2.029,'#5a6a50'],[-0.38,-2.092,'#3f6a60'],[-0.584,-2.109,'#2f7060'],[-0.511,-2.097,'#3f4a80'],[-0.521,-2.143,'#2f6070'],[-0.899,-2.109,'#2f6a68'],[-0.91,-2.166,'#2a6078'],[-0.794,-2.201,'#2a6070'],[-0.584,-2.2,'#2f7060'],[-0.584,-2.285,'#2f7a60'],[-0.567,-2.256,'#3f5a80'],[-0.735,-2.271,'#2a6078'],[-0.779,-2.341,'#304a88'],[-0.645,-2.307,'#2a5878'],[-0.489,-2.34,'#3a4488'],[-0.41,-2.203,'#2f6a70'],[-0.347,-2.2,'#2f7060'],[-0.265,-1.787,'#6a6050'],[-0.248,-1.787,'#6a6050'],[-0.164,-1.688,'#606038'],[-0.076,-1.713,'#606038'],[-0.164,-1.819,'#5a7040'],[-0.017,-1.776,'#8a5040'],[0.011,-1.802,'#7a5040'],[0.057,-1.748,'#6a6838'],[-0.227,-1.915,'#4f7050'],[-0.101,-1.884,'#6f6040'],[-0.063,-1.875,'#7a4a50'],[-0.153,-1.949,'#4f8a30'],[-0.279,-1.966,'#6a5a50'],[-0.227,-1.995,'#6a5a50'],[-0.185,-2.012,'#6a5050'],[-0.118,-2.012,'#5a4a60'],[-0.069,-1.927,'#6a5050'],[-0.042,-1.961,'#6a5050'],[-0.027,-1.927,'#6f6a20'],[0.025,-1.892,'#6f6040'],[0.046,-2.012,'#8a5030'],[0,-2.037,'#4f6a58'],[-0.237,-2.085,'#6a2a70'],[-0.189,-2.103,'#6a5a50'],[-0.048,-2.072,'#6a2a70'],[-0.027,-2.094,'#6a3a70'],[-0.116,-2.063,'#5a4a68'],[-0.097,-2.085,'#3f7a50'],[-0.231,-2.143,'#5a3a70'],[-0.069,-2.16,'#5a3078'],[-0.179,-2.188,'#5a2a78'],[-0.132,-2.174,'#6a2a70'],[-0.08,-2.302,'#4a3a80'],[0.046,-2.353,'#5a2080'],[0.042,-2.137,'#5a5060'],[0.083,-2.336,'#4a3a80'],[0.073,-1.747,'#606038'],[0.283,-1.802,'#7a5a38'],[0.184,-1.862,'#705050'],[0.237,-1.884,'#6a6030'],[0.079,-1.944,'#7a4a50'],[0.161,-1.969,'#8a3a50'],[0.136,-1.935,'#7a4a50'],[0.195,-1.935,'#7a4a50'],[0.195,-2.037,'#6a4a60'],[0.367,-1.969,'#7a4a50'],[0.304,-2.004,'#8a4a40'],[0.346,-2.037,'#7a2a70'],[0.294,-2.058,'#7a3a60'],[0.321,-2.114,'#7a2a70'],[0.367,-2.097,'#6a4060'],[0.415,-2.085,'#8a2070'],[0.602,-2.054,'#8a2a70'],[0.098,-2.118,'#4f6060'],[0.115,-2.191,'#5a5050'],[0.13,-2.166,'#7a2a70'],[0.256,-2.186,'#6a3a78'],[0.409,-2.171,'#6a4a68'],[0.178,-2.234,'#5a3a80'],[0.329,-2.273,'#7a2080'],[0.335,-2.225,'#801080'],[0.483,-2.263,'#5a3a80'],[0.562,-2.199,'#801880'],[0.613,-2.152,'#801880'],[0.707,-2.225,'#6a2a80'],[0.646,-2.246,'#800890'],[0.657,-2.314,'#7a1088'],[0.821,-2.152,'#7a1880'],[0.886,-2.208,'#801080']];

// ---------- build ----------
const elboLine = earlyIter.map((it, i) => [it, earlyElbo[i]]);
bandIter.forEach((it, i) => { elboLine.push([it, bandUpper[i]]); elboLine.push([it, bandLower[i]]); });
const latentRows = [].concat(leftArm, topLeft, topRight, bandLeft, bandCentre, bandRight, farLeftCluster, lowerMiddle, rightCluster, farRightCluster, bottomCluster);
const latentData = latentRows.map(r => ({ value: [r[0], r[1]], itemStyle: { color: r[2], opacity: 1 } }));

const FONT = 'DejaVu Sans';
const LW = 3.33;
const minus = v => String(v).replace('-', '\u2212');
function axis(gridIndex, cfg) {
  return Object.assign({
    gridIndex, type: 'value', scale: true,
    nameLocation: 'middle',
    nameTextStyle: { fontFamily: FONT, fontSize: 41.67, color: '#000' },
    axisLine: { show: true, onZero: false, lineStyle: { color: '#000', width: LW } },
    axisTick: { show: true, length: 14.6, lineStyle: { color: '#000', width: LW }, customValues: cfg.ticks },
    axisLabel: { show: true, margin: 29, fontFamily: FONT, fontSize: 41.67, color: '#000', customValues: cfg.ticks, formatter: minus, hideOverlap: false },
    splitLine: cfg.grid
      ? { show: true, lineStyle: { color: '#b0b0b0', width: LW, type: [3.33, 5.5] } }
      : { show: false }
  }, cfg.opts);
}
const titleStyle = { fontFamily: FONT, fontSize: 50, fontWeight: 'normal', color: '#000' };
const chart = echarts.init(document.getElementById('c'), null, { renderer: 'canvas', width: 3600, height: 1500 });
chart.setOption({
  animation: false,
  backgroundColor: '#fff',
  title: [
    { text: 'ELBO trajectory', left: 1000.5, top: 44, textAlign: 'center', textStyle: titleStyle },
    { text: 'latent space', left: 2764, top: 60, textAlign: 'center', textStyle: titleStyle }
  ],
  grid: [
    { left: 221, top: 112.3, width: 1571, height: 1213.4, show: true, borderColor: '#000', borderWidth: LW, backgroundColor: 'transparent' },
    { left: 1985.7, top: 130.3, width: 1570, height: 1177.1, show: true, borderColor: '#000', borderWidth: LW, backgroundColor: 'transparent' }
  ],
  xAxis: [
    axis(0, { ticks: elboXTicks, grid: true, opts: { min: -400, max: 8406, name: 'iteration', nameGap: 86 } }),
    axis(1, { ticks: latentXTicks, grid: false, opts: { min: -3.095, max: 3.37, name: 'mu_1', nameGap: 84 } })
  ],
  yAxis: [
    axis(0, { ticks: elboYTicks, grid: true, opts: { min: -32.39, max: 7.15, name: 'ELBO', nameGap: 131 } }),
    axis(1, { ticks: latentYTicks, grid: false, opts: { min: -2.5745, max: 2.27, name: 'mu_2', nameGap: 106 } })
  ],
  series: [
    {
      type: 'line', xAxisIndex: 0, yAxisIndex: 0, data: elboLine,
      symbol: 'circle', symbolSize: 29, showSymbol: true, showAllSymbol: true,
      lineStyle: { color: '#1f77b4', width: 27, join: 'round', cap: 'round' },
      itemStyle: { color: '#1f77b4' }, silent: true, z: 3
    },
    {
      type: 'scatter', xAxisIndex: 1, yAxisIndex: 1, data: latentData,
      symbol: 'circle', symbolSize: 19, silent: true, large: false, z: 3
    }
  ]
});
</script>
</body>
</html>
